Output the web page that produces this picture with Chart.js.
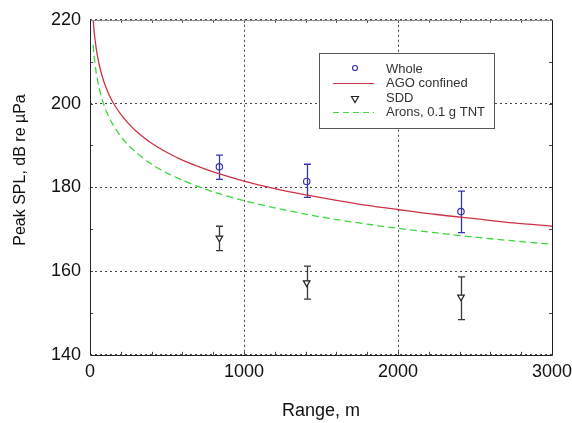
<!DOCTYPE html>
<html>
<head>
<meta charset="utf-8">
<script src="https://cdn.jsdelivr.net/npm/chart.js@4/dist/chart.umd.min.js"></script>
<style>
  html, body { margin: 0; padding: 0; background: #fff; }
  #wrap { width: 572px; height: 423px; }
</style>
</head>
<body>
<div id="wrap"><canvas id="spl-chart"></canvas></div>
<script>
// measured points, range in m
const pointRange = [840, 1407, 2409];
const wholeSpl = [184.9, 181.4, 174.2];
const wholeLow = [181.9, 177.6, 169.2];
const wholeHigh = [187.7, 185.5, 179.1];
const sddSpl = [167.9, 157.2, 153.8];
const sddLow = [164.9, 153.3, 148.4];
const sddHigh = [170.7, 161.2, 158.6];

// model curves
const curveRange = [20, 25, 30, 40, 50, 60, 80, 100, 125, 150, 200, 250, 300, 400, 500, 600, 700, 800, 1000, 1200, 1400, 1600, 1800, 2000, 2250, 2500, 2750, 3000];
const agoSpl = [220.0, 217.9, 216.1, 213.2, 211.0, 209.2, 206.4, 204.2, 202.0, 200.2, 197.4, 195.2, 193.4, 190.5, 188.3, 186.5, 185.0, 183.7, 181.5, 179.7, 178.2, 176.9, 175.7, 174.7, 173.5, 172.5, 171.5, 170.7];
const aronsSpl = [214.0, 211.9, 210.2, 207.4, 205.3, 203.6, 200.8, 198.7, 196.6, 194.9, 192.1, 190.0, 188.3, 185.5, 183.4, 181.7, 180.2, 178.9, 176.8, 175.1, 173.6, 172.3, 171.2, 170.2, 169.1, 168.1, 167.2, 166.4];

const xTicks = [0, 1000, 2000, 3000];
const yTicks = [140, 160, 180, 200, 220];

const FONT = "'Liberation Sans', Arial, sans-serif";
const RED = '#cc3344';
const GREEN = '#3fd63f';
const BLUE = '#3535b0';

function pts(xs, ys) {
  return xs.map((x, i) => ({ x: x, y: ys[i] }));
}

const errorBars = {
  id: 'errorBars',
  beforeDatasetsDraw(chart) {
    const ctx = chart.ctx;
    const xs = chart.scales.x, ys = chart.scales.y;
    const draw = (lo, hi, color) => {
      ctx.save();
      ctx.strokeStyle = color;
      ctx.lineWidth = 1.3;
      pointRange.forEach((r, i) => {
        const px = Math.round(xs.getPixelForValue(r)) + 0.5;
        const y1 = ys.getPixelForValue(lo[i]);
        const y2 = ys.getPixelForValue(hi[i]);
        ctx.beginPath();
        ctx.moveTo(px, y1); ctx.lineTo(px, y2);
        ctx.moveTo(px - 3.5, y1); ctx.lineTo(px + 3.5, y1);
        ctx.moveTo(px - 3.5, y2); ctx.lineTo(px + 3.5, y2);
        ctx.stroke();
      });
      ctx.restore();
    };
    draw(wholeLow, wholeHigh, BLUE);
    draw(sddLow, sddHigh, '#3a3a3a');
  }
};

const frame = {
  id: 'frame',
  afterDatasetsDraw(chart) {
    const ctx = chart.ctx;
    const a = chart.chartArea;
    const xs = chart.scales.x, ys = chart.scales.y;
    ctx.save();
    ctx.lineWidth = 1;
    // minor ticks, inward on all four sides
    ctx.strokeStyle = '#444';
    ctx.beginPath();
    for (let v = 200; v < 3000; v += 200) {
      const px = Math.round(xs.getPixelForValue(v)) + 0.5;
      ctx.moveTo(px, a.bottom); ctx.lineTo(px, a.bottom - 3);
      ctx.moveTo(px, a.top); ctx.lineTo(px, a.top + 3);
    }
    for (let v = 150; v < 220; v += 10) {
      const py = Math.round(ys.getPixelForValue(v)) + 0.5;
      ctx.moveTo(a.left, py); ctx.lineTo(a.left + 3, py);
      ctx.moveTo(a.right, py); ctx.lineTo(a.right - 3, py);
    }
    ctx.stroke();
    const l = Math.round(a.left) + 0.5, r = Math.round(a.right) + 0.5;
    const t = Math.round(a.top) + 0.5, b = Math.round(a.bottom) + 0.5;
    ctx.strokeStyle = '#8c8c8c';
    ctx.beginPath(); ctx.moveTo(l, t); ctx.lineTo(r, t); ctx.stroke();
    ctx.strokeStyle = '#222';
    ctx.beginPath();
    ctx.moveTo(l, t); ctx.lineTo(l, b); ctx.lineTo(r, b); ctx.lineTo(r, t);
    ctx.stroke();
    ctx.restore();
  },
  afterDraw(chart) {
    const ctx = chart.ctx;
    // y axis title
    ctx.save();
    ctx.translate(25, 170);
    ctx.rotate(-Math.PI / 2);
    ctx.fillStyle = '#111';
    ctx.font = '16px ' + FONT;
    ctx.textAlign = 'center';
    ctx.textBaseline = 'alphabetic';
    ctx.fillText('Peak SPL, dB re µPa', 0, 0);
    ctx.restore();

    // legend box
    ctx.save();
    ctx.fillStyle = '#fff';
    ctx.fillRect(319.5, 53.5, 175, 75);
    ctx.strokeStyle = '#555';
    ctx.lineWidth = 1;
    ctx.strokeRect(319.5, 53.5, 175, 75);
    ctx.font = '13px ' + FONT;
    ctx.fillStyle = '#333';
    ctx.textBaseline = 'alphabetic';
    const labels = ['Whole', 'AGO confined', 'SDD', 'Arons, 0.1 g TNT'];
    const base = [72.5, 87, 101.5, 116];
    labels.forEach((txt, i) => ctx.fillText(txt, 386, base[i]));
    // symbols
    ctx.strokeStyle = BLUE;
    ctx.lineWidth = 1.2;
    ctx.beginPath(); ctx.arc(355, 68, 2.5, 0, Math.PI * 2); ctx.stroke();
    ctx.strokeStyle = RED;
    ctx.beginPath(); ctx.moveTo(333, 83.5); ctx.lineTo(374, 83.5); ctx.stroke();
    ctx.strokeStyle = '#222';
    ctx.beginPath();
    ctx.moveTo(351.5, 96.5); ctx.lineTo(358.5, 96.5); ctx.lineTo(355, 102.5); ctx.closePath();
    ctx.stroke();
    ctx.strokeStyle = GREEN;
    ctx.setLineDash([6, 4]);
    ctx.beginPath(); ctx.moveTo(333, 112.5); ctx.lineTo(374, 112.5); ctx.stroke();
    ctx.restore();
  }
};

new Chart(document.getElementById('spl-chart'), {
  type: 'scatter',
  data: {
    datasets: [
      {
        label: 'AGO confined',
        data: pts(curveRange, agoSpl),
        showLine: true,
        borderColor: RED,
        borderWidth: 1.3,
        pointRadius: 0,
        tension: 0.3
      },
      {
        label: 'Arons, 0.1 g TNT',
        data: pts(curveRange, aronsSpl),
        showLine: true,
        borderColor: GREEN,
        borderWidth: 1.3,
        borderDash: [7, 4],
        pointRadius: 0,
        tension: 0.3
      },
      {
        label: 'Whole',
        data: pts(pointRange, wholeSpl),
        pointStyle: 'circle',
        pointRadius: 3.2,
        borderColor: BLUE,
        borderWidth: 1.2,
        backgroundColor: 'rgba(0,0,0,0)'
      },
      {
        label: 'SDD',
        data: pts(pointRange, sddSpl),
        pointStyle: 'triangle',
        rotation: 180,
        pointRadius: 3.8,
        borderColor: '#222',
        borderWidth: 1.2,
        backgroundColor: '#fff'
      }
    ]
  },
  options: {
    responsive: true,
    maintainAspectRatio: false,
    animation: false,
    layout: { padding: { left: 42, right: 0, top: 18, bottom: 0 } },
    plugins: {
      legend: { display: false },
      tooltip: { enabled: false }
    },
    scales: {
      x: {
        type: 'linear',
        min: 0,
        max: 3000,
        afterBuildTicks: (s) => { s.ticks = xTicks.map(v => ({ value: v })); },
        afterFit: (s) => { s.paddingRight = 20; },
        ticks: {
          color: '#111',
          font: { size: 18, family: FONT },
          padding: 6,
          maxRotation: 0,
          callback: (v) => String(v)
        },
        grid: { color: '#444', lineWidth: 1, drawTicks: false },
        border: { display: false, dash: [2, 3] },
        title: {
          display: true,
          text: 'Range, m',
          color: '#111',
          font: { size: 18, family: FONT },
          padding: { top: 12, bottom: 1 }
        }
      },
      y: {
        type: 'linear',
        min: 140,
        max: 220,
        afterBuildTicks: (s) => { s.ticks = yTicks.map(v => ({ value: v })); },
        ticks: { color: '#111', font: { size: 18, family: FONT }, padding: 9 },
        grid: { color: '#444', lineWidth: 1, drawTicks: false },
        border: { display: false, dash: [2, 3] }
      }
    }
  },
  plugins: [errorBars, frame]
});
</script>
</body>
</html>
